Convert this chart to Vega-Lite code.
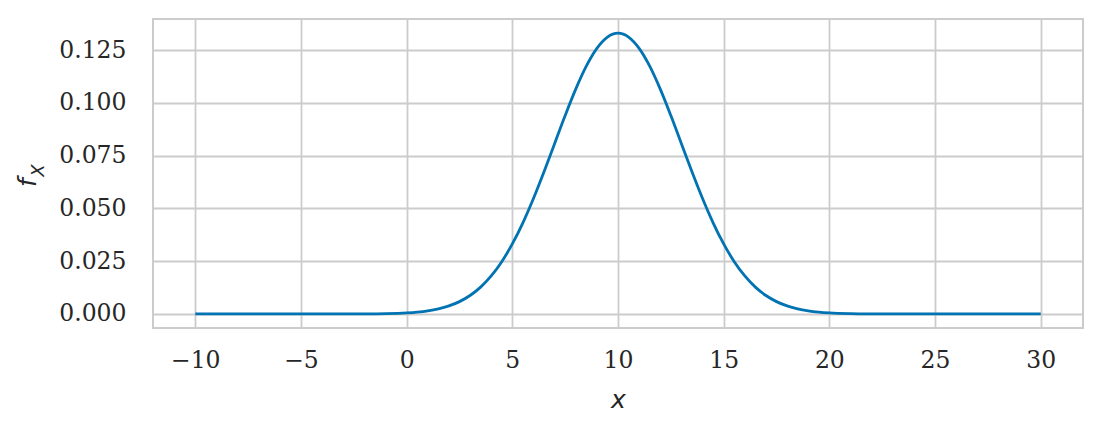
{
  "$schema": "https://vega.github.io/schema/vega-lite/v6.json",
  "width": 930,
  "height": 309,
  "autosize": {"type": "none"},
  "padding": {"left": 153, "top": 19, "right": 19, "bottom": 104},
  "background": "white",
  "config": {
    "view": {"stroke": "#cccccc", "strokeWidth": 2},
    "axis": {
      "labelFont": "DejaVu Serif",
      "labelFontSize": 23.5,
      "labelColor": "#262626",
      "titleFont": "DejaVu Sans",
      "titleFontStyle": "italic",
      "titleFontWeight": "normal",
      "titleColor": "#262626",
      "gridColor": "#cccccc",
      "gridWidth": 1.8,
      "domain": false,
      "ticks": false
    }
  },
  "data": {
    "values": [
      {"x": -10, "f": 0.0},
      {"x": -5, "f": 0.0000000004},
      {"x": -3, "f": 0.0000111},
      {"x": -2, "f": 0.0000446},
      {"x": -1, "f": 0.00016},
      {"x": 0, "f": 0.000514},
      {"x": 0.5, "f": 0.000884},
      {"x": 1, "f": 0.001477},
      {"x": 1.5, "f": 0.002402},
      {"x": 2, "f": 0.003799},
      {"x": 2.5, "f": 0.005843},
      {"x": 3, "f": 0.008741},
      {"x": 3.5, "f": 0.012718},
      {"x": 4, "f": 0.017997},
      {"x": 4.5, "f": 0.02477},
      {"x": 5, "f": 0.033159},
      {"x": 5.5, "f": 0.043173},
      {"x": 6, "f": 0.05467},
      {"x": 6.5, "f": 0.067333},
      {"x": 7, "f": 0.080657},
      {"x": 7.5, "f": 0.093971},
      {"x": 8, "f": 0.106483},
      {"x": 8.5, "f": 0.117355},
      {"x": 9, "f": 0.125795},
      {"x": 9.5, "f": 0.131147},
      {"x": 10, "f": 0.132981},
      {"x": 10.5, "f": 0.131147},
      {"x": 11, "f": 0.125795},
      {"x": 11.5, "f": 0.117355},
      {"x": 12, "f": 0.106483},
      {"x": 12.5, "f": 0.093971},
      {"x": 13, "f": 0.080657},
      {"x": 13.5, "f": 0.067333},
      {"x": 14, "f": 0.05467},
      {"x": 14.5, "f": 0.043173},
      {"x": 15, "f": 0.033159},
      {"x": 15.5, "f": 0.02477},
      {"x": 16, "f": 0.017997},
      {"x": 16.5, "f": 0.012718},
      {"x": 17, "f": 0.008741},
      {"x": 17.5, "f": 0.005843},
      {"x": 18, "f": 0.003799},
      {"x": 18.5, "f": 0.002402},
      {"x": 19, "f": 0.001477},
      {"x": 19.5, "f": 0.000884},
      {"x": 20, "f": 0.000514},
      {"x": 21, "f": 0.00016},
      {"x": 22, "f": 0.0000446},
      {"x": 23, "f": 0.0000111},
      {"x": 25, "f": 0.0000000004},
      {"x": 30, "f": 0.0}
    ]
  },
  "layer": [
    {
      "mark": {"type": "line", "color": "#0173b2", "strokeWidth": 2.8, "interpolate": "monotone"},
      "encoding": {
        "x": {
          "field": "x", "type": "quantitative",
          "scale": {"domain": [-12, 32], "nice": false, "zero": false},
          "axis": {"values": [-10, -5, 0, 5, 10, 15, 20, 25, 30], "format": "d", "labelPadding": 20, "title": "x", "titleFontSize": 25, "titleAlign": "center", "titleBaseline": "alphabetic", "titleY": 79}
        },
        "y": {
          "field": "f", "type": "quantitative",
          "scale": {"domain": [-0.00665, 0.1397], "nice": false, "zero": false},
          "axis": {"values": [0, 0.025, 0.05, 0.075, 0.1, 0.125], "format": ".3f", "labelPadding": 27, "title": "f", "titleFontSize": 25, "titleAngle": -90, "titleAlign": "center", "titleBaseline": "middle", "titleX": -125.5, "titleY": 163}
        }
      }
    },
    {
      "mark": {"type": "line", "opacity": 0},
      "encoding": {
        "x": {"field": "x", "type": "quantitative"},
        "y": {
          "field": "f", "type": "quantitative",
          "axis": {"orient": "left", "labels": false, "grid": false, "title": "X", "titleFontSize": 18, "titleAngle": -90, "titleAlign": "center", "titleBaseline": "middle", "titleX": -115, "titleY": 151}
        }
      }
    }
  ],
  "resolve": {"axis": {"y": "independent"}}
}
